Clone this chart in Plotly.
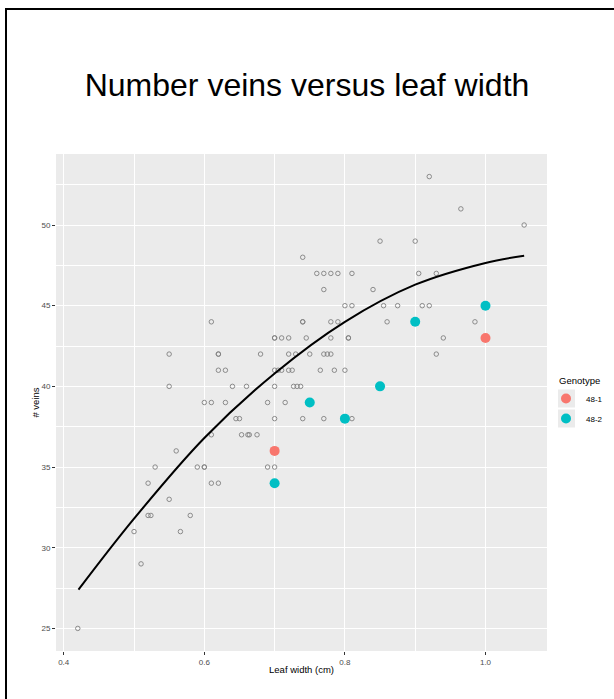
import plotly.graph_objects as go

# ---- data ----
rows_y = [53, 51, 50, 49, 48, 47, 46, 45, 44, 43, 42, 41, 40, 39, 38, 37, 36, 35, 34, 33, 32, 31, 29, 25]
rows_x = [
    [0.92],
    [0.965],
    [1.055],
    [0.85, 0.90],
    [0.74],
    [0.76, 0.77, 0.78, 0.79, 0.81, 0.905, 0.93],
    [0.77, 0.84],
    [0.80, 0.81, 0.855, 0.875, 0.91, 0.92],
    [0.61, 0.74, 0.74, 0.78, 0.79, 0.86, 0.985],
    [0.70, 0.70, 0.71, 0.72, 0.745, 0.78, 0.805, 0.805, 0.94],
    [0.55, 0.62, 0.62, 0.68, 0.72, 0.73, 0.75, 0.77, 0.775, 0.78, 0.93],
    [0.62, 0.63, 0.70, 0.705, 0.71, 0.72, 0.725, 0.765, 0.785, 0.80],
    [0.55, 0.64, 0.66, 0.70, 0.727, 0.732, 0.737],
    [0.60, 0.61, 0.63, 0.69, 0.715],
    [0.645, 0.65, 0.70, 0.74, 0.77, 0.81],
    [0.61, 0.653, 0.662, 0.664, 0.675],
    [0.56],
    [0.53, 0.59, 0.60, 0.60, 0.69, 0.70],
    [0.52, 0.61, 0.62],
    [0.55],
    [0.52, 0.524, 0.58],
    [0.50, 0.566],
    [0.51],
    [0.42],
]
other_width = [x for xs in rows_x for x in xs]
other_veins = [y for y, xs in zip(rows_y, rows_x) for _ in xs]

g481_width = [0.70, 1.00]
g481_veins = [36, 43]
g482_width = [0.70, 0.75, 0.80, 0.85, 0.90, 1.00]
g482_veins = [34, 39, 38, 40, 44, 45]

# fitted curve
curve_width = [0.421, 0.50, 0.60, 0.70, 0.80, 0.90, 1.00, 1.055]
curve_veins = [27.4, 31.8, 36.8, 40.8, 44.0, 46.3, 47.65, 48.1]

x_ticks = [0.4, 0.6, 0.8, 1.0]
x_ticklabels = ["0.4", "0.6", "0.8", "1.0"]
y_ticks = [25, 30, 35, 40, 45, 50]
y_ticklabels = ["25", "30", "35", "40", "45", "50"]

# ---- layout geometry (pixels) ----
W, H = 614, 699
PL, PR, PT, PB = 56, 547, 154, 651
def px(xp):
    return (xp - PL) / (PR - PL)
def py(yp):
    return (PB - yp) / (PB - PT)

FONT = "Liberation Sans, Arial, Helvetica, sans-serif"
RED = "#F8766D"
CYAN = "#00BFC4"

fig = go.Figure()
fig.add_trace(go.Scatter(
    x=other_width, y=other_veins, mode="markers", showlegend=False,
    marker=dict(symbol="circle-open", size=4.5, color="#808080", line=dict(width=0.9, color="#808080")),
    hoverinfo="x+y"))
fig.add_trace(go.Scatter(
    x=curve_width, y=curve_veins, mode="lines", showlegend=False,
    line=dict(color="black", width=2, shape="spline", smoothing=1.0), hoverinfo="skip"))
fig.add_trace(go.Scatter(
    x=g481_width, y=g481_veins, mode="markers", name="48-1", legendgroup="a",
    marker=dict(symbol="circle", size=10, color=RED)))
fig.add_trace(go.Scatter(
    x=g482_width, y=g482_veins, mode="markers", name="48-2", legendgroup="b",
    marker=dict(symbol="circle", size=10, color=CYAN)))

shapes = [
    # outer frame: only top and left edges are visible in the reference
    dict(type="line", xref="paper", yref="paper", x0=px(5), x1=px(W + 40), y0=py(9), y1=py(9),
         line=dict(color="black", width=2), layer="above"),
    dict(type="line", xref="paper", yref="paper", x0=px(6), x1=px(6), y0=py(8), y1=py(H + 40),
         line=dict(color="black", width=2), layer="above"),
    # legend key backgrounds
    dict(type="rect", xref="paper", yref="paper", x0=px(558), x1=px(575), y0=py(389.5), y1=py(407.5),
         line=dict(width=0), fillcolor="#EBEBEB", layer="above"),
    dict(type="rect", xref="paper", yref="paper", x0=px(558), x1=px(575), y0=py(409.5), y1=py(427.5),
         line=dict(width=0), fillcolor="#EBEBEB", layer="above"),
]

fig.update_layout(
    width=W, height=H,
    margin=dict(l=PL, r=W - PR, t=PT, b=H - PB, autoexpand=False),
    paper_bgcolor="white", plot_bgcolor="#EBEBEB",
    font=dict(family=FONT, color="black"),
    title=dict(text="Number veins versus leaf width", x=0.5, xref="container", xanchor="center",
               y=1 - 85 / H, yref="container", yanchor="middle",
               font=dict(family=FONT, size=32, color="black")),
    showlegend=True,
    legend=dict(x=px(546), y=py(384), xanchor="left", yanchor="top",
                font=dict(family=FONT, size=8, color="black"),
                bgcolor="rgba(0,0,0,0)", tracegroupgap=1, traceorder="grouped"),
    annotations=[dict(text="Genotype", xref="paper", yref="paper", x=px(557), y=py(380),
                      xanchor="left", yanchor="middle", showarrow=False,
                      font=dict(family=FONT, size=9.5, color="black"))],
    shapes=shapes,
)

fig.update_xaxes(
    range=[0.389, 1.0875], tickvals=x_ticks, ticktext=x_ticklabels,
    showgrid=True, gridcolor="white", gridwidth=1.1, zeroline=False,
    minor=dict(dtick=0.1, tick0=0.4, showgrid=True, gridcolor="white", gridwidth=0.5, ticks=""),
    ticks="outside", ticklen=3, tickcolor="#333333", tickwidth=1,
    tickfont=dict(family=FONT, size=8, color="#4d4d4d"),
    title=dict(text="Leaf width (cm)", font=dict(family=FONT, size=9.5, color="black"), standoff=0),
    showline=False, automargin=False,
)
fig.update_yaxes(
    range=[23.6, 54.4], tickvals=y_ticks, ticktext=y_ticklabels,
    showgrid=True, gridcolor="white", gridwidth=1.1, zeroline=False,
    minor=dict(dtick=2.5, tick0=25, showgrid=True, gridcolor="white", gridwidth=0.5, ticks=""),
    ticks="outside", ticklen=3, tickcolor="#333333", tickwidth=1,
    tickfont=dict(family=FONT, size=8, color="#4d4d4d"),
    title=dict(text="# veins", font=dict(family=FONT, size=9.5, color="black"), standoff=0),
    showline=False, automargin=False,
)

fig.write_html("out.html",
               config={"displayModeBar": False},
               post_script="document.body.style.margin='0';document.body.style.overflow='hidden';")
